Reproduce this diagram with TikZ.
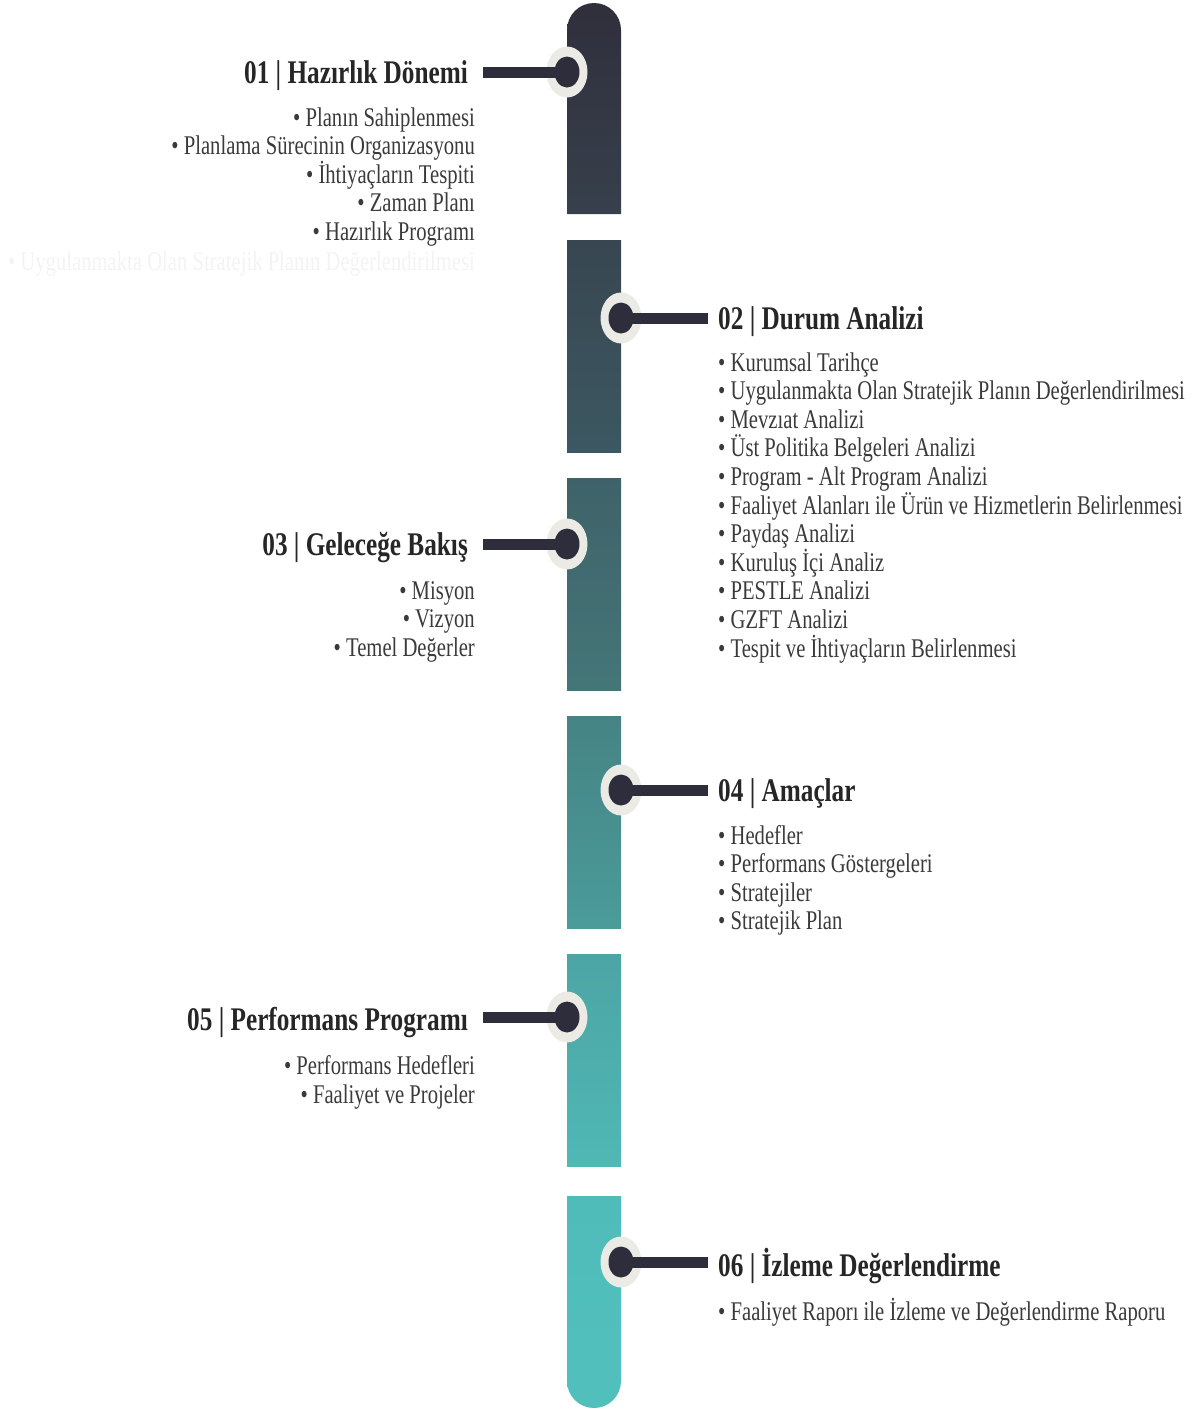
\documentclass[tikz,border=0pt]{standalone}
\usepackage{fontspec}
\setmainfont{Liberation Serif}[FakeStretch=0.765]
\usetikzlibrary{shapes.geometric}

\definecolor{segA}{HTML}{302F3C}
\definecolor{segB}{HTML}{37404C}
\definecolor{segC}{HTML}{384650}
\definecolor{segD}{HTML}{3C5862}
\definecolor{segE}{HTML}{3F6269}
\definecolor{segF}{HTML}{447678}
\definecolor{segG}{HTML}{468384}
\definecolor{segH}{HTML}{4A9C9A}
\definecolor{segI}{HTML}{4CA5A4}
\definecolor{segJ}{HTML}{50B8B5}
\definecolor{segK}{HTML}{50BCB9}
\definecolor{segL}{HTML}{51C0BD}
\definecolor{ringgray}{HTML}{EBEAE4}
\definecolor{dotnavy}{HTML}{2E2D3B}
\definecolor{titlegray}{HTML}{262626}
\definecolor{itemgray}{HTML}{3A3A3A}
\definecolor{ghostgray}{HTML}{F3F3F3}

\begin{document}
\begin{tikzpicture}[x=1pt,y=-1pt,
    ring/.style={ellipse,fill=ringgray,inner sep=0pt,minimum width=41pt,minimum height=51pt},
    dot/.style={ellipse,fill=dotnavy,inner sep=0pt,minimum width=25pt,minimum height=31pt},
    stem/.style={draw=dotnavy,line width=11pt},
    title/.style={font=\fontsize{33}{36}\selectfont\bfseries,text=titlegray,inner sep=0pt},
    item/.style={font=\fontsize{27}{29}\selectfont,text=itemgray,inner sep=0pt},
  ]
  \useasboundingbox (0,0) rectangle (1193,1411);

  % the bar, six pieces
  \shade[top color=segA,bottom color=segB] (567,214) -- (567,30) arc[start angle=180,end angle=360,radius=27] -- (621,214) -- cycle;
  \shade[top color=segC,bottom color=segD] (567,240) rectangle (621,452);
  \shade[top color=segE,bottom color=segF] (567,478) rectangle (621,690);
  \shade[top color=segG,bottom color=segH] (567,716) rectangle (621,928);
  \shade[top color=segI,bottom color=segJ] (567,954) rectangle (621,1166);
  \shade[top color=segK,bottom color=segL] (567,1196) -- (567,1381) arc[start angle=180,end angle=0,radius=27] -- (621,1196) -- cycle;

  % knobs and stems
  \foreach \n/\x/\y/\ex in {1/567/72/483,2/621/318/708,3/567/544/483,4/621/790/708,5/567/1017/483,6/621/1262/708}{
    \node[ring] (r\n) at (\x,\y) {};
    \node[dot] (d\n) at (r\n.center) {};
    \coordinate (e\n) at (\ex,\y);
    \draw[stem] (e\n) -- (d\n.center);
  }

  % titles
  \node[title,anchor=base east] (t1) at (468,83) {01 | Hazırlık Dönemi};
  \node[title,anchor=base west] (t2) at (718,329) {02 | Durum Analizi};
  \node[title,anchor=base east] (t3) at (468,555) {03 | Geleceğe Bakış};
  \node[title,anchor=base west] (t4) at (718,801) {04 | Amaçlar};
  \node[title,anchor=base east] (t5) at (468,1030) {05 | Performans Programı};
  \node[title,anchor=base west] (t6) at (718,1276) {06 | İzleme Değerlendirme};

  % lists
  \foreach \t [count=\i from 0] in {• Planın Sahiplenmesi,• Planlama Sürecinin Organizasyonu,• İhtiyaçların Tespiti,• Zaman Planı,• Hazırlık Programı}
    \node[item,anchor=base east] (hz\i) at (475,{126+28.5*\i}) {\t};
  \node[item,anchor=base east,text=ghostgray] (hz5) at (475,270) {• Uygulanmakta Olan Stratejik Planın Değerlendirilmesi};

  \foreach \t [count=\i from 0] in {• Kurumsal Tarihçe,• Uygulanmakta Olan Stratejik Planın Değerlendirilmesi,• Mevzıat Analizi,• Üst Politika Belgeleri Analizi,• Program - Alt Program Analizi,• Faaliyet Alanları ile Ürün ve Hizmetlerin Belirlenmesi,• Paydaş Analizi,• Kuruluş İçi Analiz,• PESTLE Analizi,• GZFT Analizi,• Tespit ve İhtiyaçların Belirlenmesi}
    \node[item,anchor=base west] (da\i) at (718,{371+28.6*\i}) {\t};

  \foreach \t [count=\i from 0] in {• Misyon,• Vizyon,• Temel Değerler}
    \node[item,anchor=base east] (gb\i) at (475,{599+28.5*\i}) {\t};

  \foreach \t [count=\i from 0] in {• Hedefler,• Performans Göstergeleri,• Stratejiler,• Stratejik Plan}
    \node[item,anchor=base west] (am\i) at (718,{844+28.6*\i}) {\t};

  \foreach \t [count=\i from 0] in {• Performans Hedefleri,• Faaliyet ve Projeler}
    \node[item,anchor=base east] (pp\i) at (475,{1074+29*\i}) {\t};

  \node[item,anchor=base west] (iz0) at (718,1320) {• Faaliyet Raporı ile İzleme ve Değerlendirme Raporu};
\end{tikzpicture}
\end{document}
